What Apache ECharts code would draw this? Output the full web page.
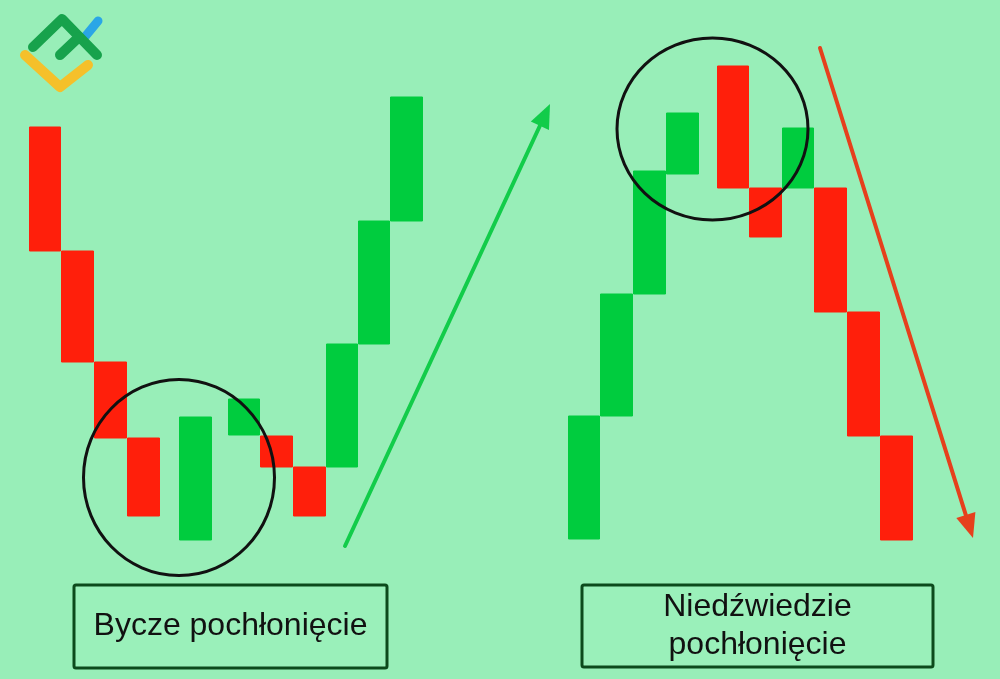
<!DOCTYPE html>
<html>
<head>
<meta charset="utf-8">
<script src="https://cdn.jsdelivr.net/npm/echarts@6/dist/echarts.min.js"></script>
<style>
html,body{margin:0;padding:0;background:#98eeb8;}
#chart{width:1000px;height:679px;}
</style>
</head>
<body>
<div id="chart"></div>
<script>
// Candle time positions (arbitrary time units) and prices (arbitrary units)
const times  = [4.5, 7.75, 11.05, 14.35, 19.55, 24.4, 27.65, 30.95, 34.2, 37.4, 40.65,
                58.4, 61.65, 64.95, 68.25, 73.3, 76.55, 79.8, 83.05, 86.35, 89.65];
const opens  = [47.3, 34.9, 23.8, 16.2, 6.0, 16.5, 16.4, 13.3, 13.3, 25.6, 37.9,
                6.1, 18.4, 30.6, 42.6, 53.4, 41.2, 41.2, 41.2, 28.8, 16.4];
const closes = [34.9, 23.8, 16.2, 8.4, 18.3, 20.1, 13.3, 8.4, 25.6, 37.9, 50.3,
                18.4, 30.6, 42.9, 48.7, 41.2, 36.3, 47.2, 28.8, 16.4, 6.0];
const labelLeft = 'Bycze pochłonięcie';
const labelRight = 'Niedźwiedzie\npochłonięcie';

const candleData = times.map((t, i) => [t, opens[i], closes[i],
  Math.min(opens[i], closes[i]), Math.max(opens[i], closes[i])]);

const chart = echarts.init(document.getElementById('chart'));

function arrow(x1, y1, x2, y2, color, w, headLen, headHalf) {
  const dx = x2 - x1, dy = y2 - y1, L = Math.hypot(dx, dy);
  const ux = dx / L, uy = dy / L, nx = -uy, ny = ux;
  const bx = x2 - headLen * ux, by = y2 - headLen * uy;
  return [
    { type: 'line', z: 100, shape: { x1: x1, y1: y1, x2: bx, y2: by },
      style: { stroke: color, lineWidth: w, lineCap: 'round' } },
    { type: 'polygon', z: 100, shape: { points: [[x2, y2], [bx + headHalf * nx, by + headHalf * ny], [bx - headHalf * nx, by - headHalf * ny]] },
      style: { fill: color } }
  ];
}

const graphics = [
  // logo
  { type: 'polyline', z: 100, shape: { points: [[25, 55], [60, 87], [88, 65]] },
    style: { stroke: '#f5c02a', lineWidth: 10, lineCap: 'round', lineJoin: 'round', fill: null } },
  { type: 'polyline', z: 101, shape: { points: [[33, 47], [62, 19], [97, 55]] },
    style: { stroke: '#17a24c', lineWidth: 10, lineCap: 'round', lineJoin: 'round', fill: null } },
  { type: 'line', z: 101, shape: { x1: 60, y1: 55, x2: 79, y2: 37 },
    style: { stroke: '#17a24c', lineWidth: 10, lineCap: 'round' } },
  { type: 'line', z: 100, shape: { x1: 84, y1: 38, x2: 98, y2: 21 },
    style: { stroke: '#2aa6e6', lineWidth: 9, lineCap: 'round' } },
  // circles
  { type: 'ellipse', z: 100, shape: { cx: 179, cy: 477.5, rx: 95.5, ry: 98 },
    style: { stroke: '#111', lineWidth: 3, fill: null } },
  { type: 'ellipse', z: 100, shape: { cx: 712.5, cy: 129, rx: 95.5, ry: 91 },
    style: { stroke: '#111', lineWidth: 3, fill: null } },
  ...arrow(345, 546, 550, 104, '#12cc4a', 4, 24, 10),
  ...arrow(820, 48, 973, 538, '#e6401c', 4, 24, 10),
  // label boxes
  { type: 'rect', z: 100, shape: { x: 74, y: 585, width: 313, height: 83, r: 2 },
    style: { stroke: '#0c4a1c', lineWidth: 3, fill: '#9af0ba' } },
  { type: 'text', z: 101, x: 230.5, y: 626.5,
    style: { text: labelLeft, font: '32px "Liberation Sans", Arial, sans-serif', fill: '#111',
      align: 'center', verticalAlign: 'middle' } },
  { type: 'rect', z: 100, shape: { x: 582, y: 585, width: 351, height: 82, r: 2 },
    style: { stroke: '#0c4a1c', lineWidth: 3, fill: '#9af0ba' } },
  { type: 'text', z: 101, x: 757.5, y: 626,
    style: { text: labelRight, font: '32px "Liberation Sans", Arial, sans-serif', fill: '#111',
      align: 'center', verticalAlign: 'middle', lineHeight: 38 } }
];

chart.setOption({
  backgroundColor: '#98eeb8',
  animation: false,
  grid: { left: 0, right: 0, top: 0, height: 600 },
  xAxis: { type: 'value', min: 0, max: 100, show: false },
  yAxis: { type: 'value', min: 0, max: 60, show: false },
  series: [{
    type: 'candlestick',
    data: candleData,
    encode: { x: 0, y: [1, 2, 3, 4] },
    barWidth: 32,
    itemStyle: {
      color: '#00cc3e', color0: '#ff1f0b',
      borderColor: '#00cc3e', borderColor0: '#ff1f0b', borderWidth: 1
    }
  }],
  graphic: graphics
});
</script>
</body>
</html>
